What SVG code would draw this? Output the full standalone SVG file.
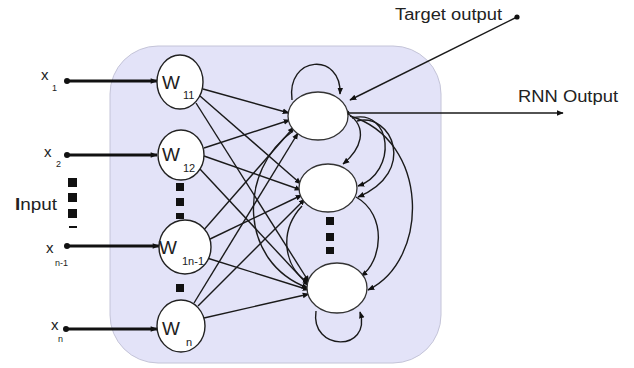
<svg xmlns="http://www.w3.org/2000/svg" width="634" height="368" viewBox="0 0 634 368">
  <defs>
    <marker id="ah" viewBox="0 0 10 10" refX="9" refY="5" markerWidth="7" markerHeight="7" orient="auto" markerUnits="userSpaceOnUse">
      <path d="M0,1 L10,5 L0,9 z" fill="#111"/>
    </marker>
    <marker id="ahb" viewBox="0 0 10 10" refX="9" refY="5" markerWidth="8" markerHeight="7" orient="auto" markerUnits="userSpaceOnUse">
      <path d="M0,1 L10,5 L0,9 z" fill="#111"/>
    </marker>
    <style>
      .t { font-family: "Liberation Sans", Arial, sans-serif; fill: #222; }
      .w { fill: #fff; stroke: #222; stroke-width: 1.4; }
      .o { fill: #fff; stroke: #333; stroke-width: 1.3; }
      .ln { fill: none; stroke: #1a1a1a; stroke-width: 1.4; marker-end: url(#ah); }
      .in { fill: none; stroke: #111; stroke-width: 2.8; marker-end: url(#ahb); }
      .dot { fill: #111; }
      .sq { fill: #111; }
    </style>
  </defs>

  <rect width="634" height="368" fill="#fff"/>

  <!-- network box -->
  <rect x="110" y="46" width="331" height="317" rx="48" ry="48" fill="#e3e3f8" stroke="#c4c4d8" stroke-width="1"/>

  <!-- connectors -->
  <g id="connectors">
    <!-- inputs -->
    <line class="in" x1="67" y1="81" x2="157" y2="81"/>
    <line class="in" x1="67" y1="155" x2="157" y2="155"/>
    <line class="in" x1="67" y1="246" x2="159" y2="246"/>
    <line class="in" x1="66" y1="329" x2="157" y2="329"/>
    <circle class="dot" cx="67" cy="81" r="3"/>
    <circle class="dot" cx="67" cy="155" r="3"/>
    <circle class="dot" cx="67" cy="246" r="3"/>
    <circle class="dot" cx="66" cy="329" r="3"/>

    <!-- weights to neurons -->
    <line class="ln" x1="203" y1="89" x2="289" y2="113"/>
    <line class="ln" x1="200" y1="96" x2="301" y2="184"/>
    <line class="ln" x1="196" y1="103" x2="309" y2="282"/>
    <line class="ln" x1="204" y1="148" x2="290" y2="120"/>
    <line class="ln" x1="204" y1="156" x2="301" y2="190"/>
    <line class="ln" x1="199" y1="168" x2="309" y2="286"/>
    <line class="ln" x1="202" y1="232" x2="294" y2="127"/>
    <line class="ln" x1="208" y1="240" x2="302" y2="195"/>
    <line class="ln" x1="207" y1="258" x2="309" y2="290"/>
    <line class="ln" x1="194" y1="303" x2="298" y2="133"/>
    <line class="ln" x1="198" y1="306" x2="305" y2="199"/>
    <line class="ln" x1="204" y1="318" x2="309" y2="294"/>

    <!-- recurrent links -->
    <path class="ln" d="M292,100 C286,55 342,52 340,94"/>
    <path class="ln" d="M316,311 C310,352 372,352 360,312"/>
    <path class="ln" d="M347,113 C370,128 360,150 343,164"/>
    <path class="ln" d="M352,118 C392,108 398,172 358,186"/>
    <path class="ln" d="M357,121 C392,112 418,172 358,197"/>
    <path class="ln" d="M350,116 C430,140 430,260 368,290"/>
    <path class="ln" d="M356,197 C388,215 382,262 361,276"/>
    <path class="ln" d="M293,131 C238,170 238,262 308,288"/>
    <path class="ln" d="M302,206 C278,232 284,268 309,283"/>

    <!-- target and output -->
    <line class="ln" x1="517" y1="17" x2="350" y2="100"/>
    <circle class="dot" cx="517" cy="17" r="2.6"/>
    <line class="ln" x1="347" y1="113" x2="563" y2="113"/>
    <circle class="dot" cx="347" cy="113" r="2.4"/>
  </g>

  <!-- weight nodes -->
  <g id="w11">
    <ellipse class="w" cx="180" cy="82" rx="23" ry="27"/>
    <text class="t" x="162" y="89" font-size="19">W</text>
    <text class="t" x="183" y="99" font-size="11">11</text>
  </g>
  <g id="w12">
    <ellipse class="w" cx="181" cy="155" rx="23" ry="25"/>
    <text class="t" x="162" y="161" font-size="19">W</text>
    <text class="t" x="183" y="172" font-size="11">12</text>
  </g>
  <g id="w1n-1">
    <ellipse class="w" cx="185" cy="247" rx="26" ry="27"/>
    <text class="t" x="159" y="254" font-size="19">W</text>
    <text class="t" x="182" y="265" font-size="11">1n-1</text>
  </g>
  <g id="wn">
    <ellipse class="w" cx="181" cy="326" rx="24" ry="26"/>
    <text class="t" x="162" y="335" font-size="19">W</text>
    <text class="t" x="186" y="346" font-size="11">n</text>
  </g>

  <!-- recurrent neurons -->
  <g id="n1"><ellipse class="o" cx="318" cy="116" rx="30" ry="24"/></g>
  <g id="n2"><ellipse class="o" cx="328" cy="188" rx="29" ry="24"/></g>
  <g id="n3"><ellipse class="o" cx="337" cy="288" rx="30" ry="25"/></g>

  <!-- ellipsis marks -->
  <g id="dots">
    <rect class="sq" x="176" y="183" width="8" height="8"/>
    <rect class="sq" x="176" y="198" width="8" height="8"/>
    <rect class="sq" x="176" y="213" width="8" height="6"/>
    <rect class="sq" x="176" y="284" width="8" height="8"/>
    <rect class="sq" x="68" y="178" width="9" height="9"/>
    <rect class="sq" x="68" y="193" width="9" height="9"/>
    <rect class="sq" x="68" y="209" width="9" height="9"/>
    <rect class="sq" x="69" y="226" width="8" height="2"/>
    <rect class="sq" x="326" y="217" width="8" height="8"/>
    <rect class="sq" x="326" y="233" width="8" height="8"/>
    <rect class="sq" x="326" y="247" width="8" height="7"/>
  </g>

  <!-- labels -->
  <g id="labels">
    <text class="t" x="41" y="80" font-size="15">x</text>
    <text class="t" x="52" y="91" font-size="9">1</text>
    <text class="t" x="44" y="157" font-size="15">x</text>
    <text class="t" x="56" y="167" font-size="9">2</text>
    <text class="t" x="46" y="253" font-size="15">x</text>
    <text class="t" x="55" y="266" font-size="9">n-1</text>
    <text class="t" x="51" y="330" font-size="15">x</text>
    <text class="t" x="58" y="342" font-size="9">n</text>
    <text class="t" x="15" y="210" font-size="16" textLength="42" lengthAdjust="spacingAndGlyphs"><tspan font-weight="bold">I</tspan>nput</text>
    <text class="t" x="395" y="20" font-size="16" textLength="107" lengthAdjust="spacingAndGlyphs">Target output</text>
    <text class="t" x="518" y="102" font-size="16" textLength="100" lengthAdjust="spacingAndGlyphs">RNN Output</text>
  </g>
</svg>
